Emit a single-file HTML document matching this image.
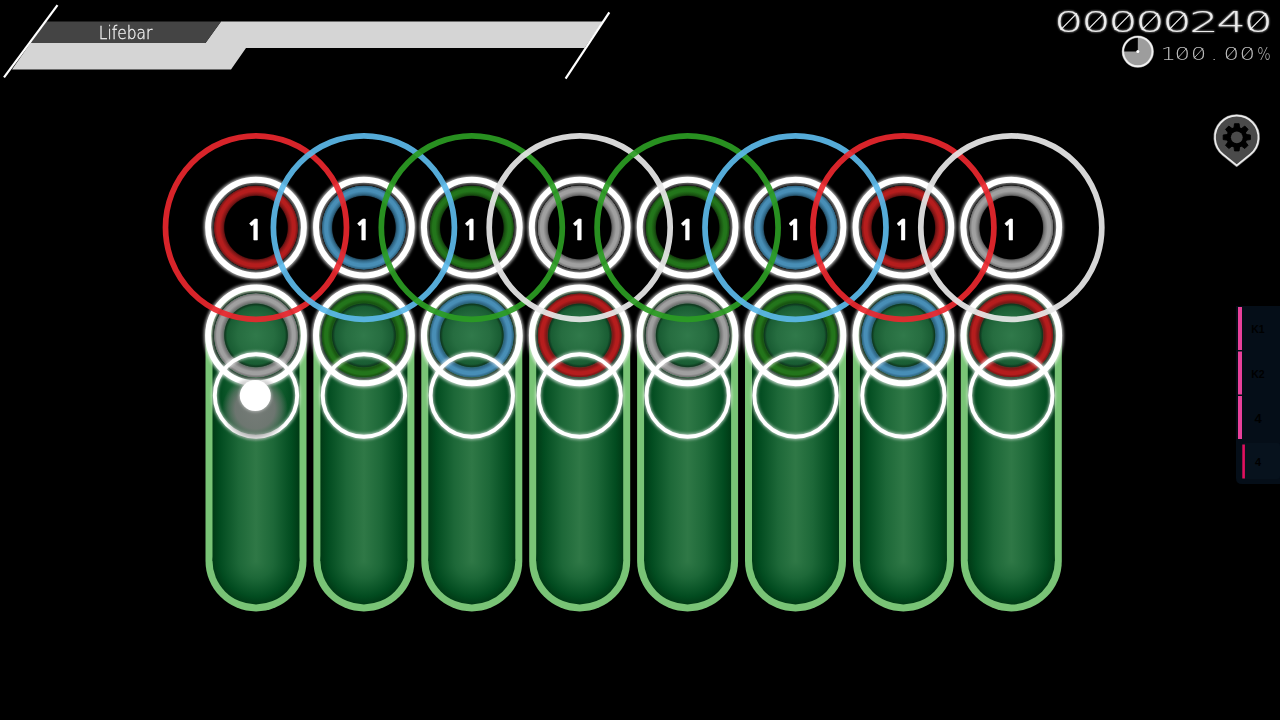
<!DOCTYPE html>
<html lang="en"><head><meta charset="utf-8"><title>Skin preview</title>
<style>
html,body{margin:0;padding:0;background:#000;}
body{width:1280px;height:720px;overflow:hidden;position:relative;font-family:"Liberation Sans",sans-serif;}
svg{position:absolute;left:0;top:0;display:block}
</style></head><body>
<svg width="1280" height="720" viewBox="0 0 1280 720">
<defs>
<linearGradient id="bodyL" x1="0" x2="1" y1="0" y2="0">
<stop offset="0" stop-color="#003a15"/><stop offset="0.09" stop-color="#024c20"/><stop offset="0.3" stop-color="#1d6838"/><stop offset="0.5" stop-color="#2f7846"/><stop offset="0.7" stop-color="#1d6838"/><stop offset="0.91" stop-color="#024c20"/><stop offset="1" stop-color="#003a15"/>
</linearGradient>
<radialGradient id="bodyR" cx="0.5" cy="0.5" r="0.5">
<stop offset="0" stop-color="#2f7846"/><stop offset="0.4" stop-color="#1d6838"/><stop offset="0.82" stop-color="#024c20"/><stop offset="1" stop-color="#003a15"/>
</radialGradient>
<filter id="glow" x="-20%" y="-20%" width="140%" height="140%"><feGaussianBlur stdDeviation="1.6"/></filter>
<filter id="tglow" x="-5%" y="-30%" width="110%" height="160%"><feGaussianBlur stdDeviation="0.8" result="b"/><feComponentTransfer in="b" result="b2"><feFuncA type="linear" slope="0.9"/></feComponentTransfer><feMerge><feMergeNode in="b2"/><feMergeNode in="SourceGraphic"/></feMerge></filter>
<filter id="noop" x="-1%" y="-20%" width="102%" height="140%"><feOffset dx="0" dy="0"/></filter>
<filter id="soft" x="-20%" y="-20%" width="140%" height="140%"><feGaussianBlur stdDeviation="0.6"/></filter>
<filter id="blur3" x="-30%" y="-30%" width="160%" height="160%"><feGaussianBlur stdDeviation="3"/></filter>
<filter id="blur8" x="-50%" y="-50%" width="200%" height="200%"><feGaussianBlur stdDeviation="7"/></filter>

<radialGradient id="hc_red" cx="0.5" cy="0.5" r="0.5">
<stop offset="0" stop-color="#000" stop-opacity="0"/>
<stop offset="0.68" stop-color="#000" stop-opacity="0"/>
<stop offset="0.735" stop-color="#000" stop-opacity="0.35"/>
<stop offset="0.76" stop-color="#821616" stop-opacity="0.75"/>
<stop offset="0.79" stop-color="#821616"/>
<stop offset="0.86" stop-color="#b51d1d"/>
<stop offset="0.925" stop-color="#b51d1d"/>
<stop offset="0.972" stop-color="#821616"/>
<stop offset="0.988" stop-color="#821616" stop-opacity="0.8"/>
<stop offset="1" stop-color="#821616" stop-opacity="0"/>
</radialGradient>
<radialGradient id="hc_blue" cx="0.5" cy="0.5" r="0.5">
<stop offset="0" stop-color="#000" stop-opacity="0"/>
<stop offset="0.68" stop-color="#000" stop-opacity="0"/>
<stop offset="0.735" stop-color="#000" stop-opacity="0.35"/>
<stop offset="0.76" stop-color="#316a8a" stop-opacity="0.75"/>
<stop offset="0.79" stop-color="#316a8a"/>
<stop offset="0.86" stop-color="#488eb6"/>
<stop offset="0.925" stop-color="#488eb6"/>
<stop offset="0.972" stop-color="#316a8a"/>
<stop offset="0.988" stop-color="#316a8a" stop-opacity="0.8"/>
<stop offset="1" stop-color="#316a8a" stop-opacity="0"/>
</radialGradient>
<radialGradient id="hc_green" cx="0.5" cy="0.5" r="0.5">
<stop offset="0" stop-color="#000" stop-opacity="0"/>
<stop offset="0.68" stop-color="#000" stop-opacity="0"/>
<stop offset="0.735" stop-color="#000" stop-opacity="0.35"/>
<stop offset="0.76" stop-color="#195511" stop-opacity="0.75"/>
<stop offset="0.79" stop-color="#195511"/>
<stop offset="0.86" stop-color="#23751b"/>
<stop offset="0.925" stop-color="#23751b"/>
<stop offset="0.972" stop-color="#195511"/>
<stop offset="0.988" stop-color="#195511" stop-opacity="0.8"/>
<stop offset="1" stop-color="#195511" stop-opacity="0"/>
</radialGradient>
<radialGradient id="hc_gray" cx="0.5" cy="0.5" r="0.5">
<stop offset="0" stop-color="#000" stop-opacity="0"/>
<stop offset="0.68" stop-color="#000" stop-opacity="0"/>
<stop offset="0.735" stop-color="#000" stop-opacity="0.35"/>
<stop offset="0.76" stop-color="#787878" stop-opacity="0.75"/>
<stop offset="0.79" stop-color="#787878"/>
<stop offset="0.86" stop-color="#a0a0a0"/>
<stop offset="0.925" stop-color="#a0a0a0"/>
<stop offset="0.972" stop-color="#787878"/>
<stop offset="0.988" stop-color="#787878" stop-opacity="0.8"/>
<stop offset="1" stop-color="#787878" stop-opacity="0"/>
</radialGradient>
<radialGradient id="haze" cx="0.5" cy="0.5" r="0.5">
<stop offset="0" stop-color="#7c7c7c" stop-opacity="0.92"/>
<stop offset="0.6" stop-color="#787878" stop-opacity="0.88"/>
<stop offset="0.8" stop-color="#787878" stop-opacity="0.5"/>
<stop offset="1" stop-color="#787878" stop-opacity="0"/>
</radialGradient>
<radialGradient id="headfill" cx="0.5" cy="0.5" r="0.5">
<stop offset="0" stop-color="#30794a"/><stop offset="0.55" stop-color="#266d40"/><stop offset="0.9" stop-color="#175a31"/><stop offset="1" stop-color="#175a31" stop-opacity="0.6"/>
</radialGradient>
</defs>
<g id="sliders">
<path d="M205.5 335.4 A50.5 50.5 0 0 1 306.5 335.4 V560.9 A50.5 50.5 0 0 1 205.5 560.9 Z" fill="#79c476"/>
<circle cx="256.0" cy="335.4" r="43.5" fill="url(#bodyR)"/>
<circle cx="256.0" cy="560.9" r="43.5" fill="url(#bodyR)"/>
<rect x="212.5" y="335.4" width="87.0" height="225.5" fill="url(#bodyL)"/>
<path d="M313.4 335.4 A50.5 50.5 0 0 1 414.4 335.4 V560.9 A50.5 50.5 0 0 1 313.4 560.9 Z" fill="#79c476"/>
<circle cx="363.9" cy="335.4" r="43.5" fill="url(#bodyR)"/>
<circle cx="363.9" cy="560.9" r="43.5" fill="url(#bodyR)"/>
<rect x="320.4" y="335.4" width="87.0" height="225.5" fill="url(#bodyL)"/>
<path d="M421.3 335.4 A50.5 50.5 0 0 1 522.3 335.4 V560.9 A50.5 50.5 0 0 1 421.3 560.9 Z" fill="#79c476"/>
<circle cx="471.8" cy="335.4" r="43.5" fill="url(#bodyR)"/>
<circle cx="471.8" cy="560.9" r="43.5" fill="url(#bodyR)"/>
<rect x="428.3" y="335.4" width="87.0" height="225.5" fill="url(#bodyL)"/>
<path d="M529.2 335.4 A50.5 50.5 0 0 1 630.2 335.4 V560.9 A50.5 50.5 0 0 1 529.2 560.9 Z" fill="#79c476"/>
<circle cx="579.7" cy="335.4" r="43.5" fill="url(#bodyR)"/>
<circle cx="579.7" cy="560.9" r="43.5" fill="url(#bodyR)"/>
<rect x="536.2" y="335.4" width="87.0" height="225.5" fill="url(#bodyL)"/>
<path d="M637.1 335.4 A50.5 50.5 0 0 1 738.1 335.4 V560.9 A50.5 50.5 0 0 1 637.1 560.9 Z" fill="#79c476"/>
<circle cx="687.6" cy="335.4" r="43.5" fill="url(#bodyR)"/>
<circle cx="687.6" cy="560.9" r="43.5" fill="url(#bodyR)"/>
<rect x="644.1" y="335.4" width="87.0" height="225.5" fill="url(#bodyL)"/>
<path d="M745.0 335.4 A50.5 50.5 0 0 1 846.0 335.4 V560.9 A50.5 50.5 0 0 1 745.0 560.9 Z" fill="#79c476"/>
<circle cx="795.5" cy="335.4" r="43.5" fill="url(#bodyR)"/>
<circle cx="795.5" cy="560.9" r="43.5" fill="url(#bodyR)"/>
<rect x="752.0" y="335.4" width="87.0" height="225.5" fill="url(#bodyL)"/>
<path d="M852.9 335.4 A50.5 50.5 0 0 1 953.9 335.4 V560.9 A50.5 50.5 0 0 1 852.9 560.9 Z" fill="#79c476"/>
<circle cx="903.4" cy="335.4" r="43.5" fill="url(#bodyR)"/>
<circle cx="903.4" cy="560.9" r="43.5" fill="url(#bodyR)"/>
<rect x="859.9" y="335.4" width="87.0" height="225.5" fill="url(#bodyL)"/>
<path d="M960.8 335.4 A50.5 50.5 0 0 1 1061.8 335.4 V560.9 A50.5 50.5 0 0 1 960.8 560.9 Z" fill="#79c476"/>
<circle cx="1011.3" cy="335.4" r="43.5" fill="url(#bodyR)"/>
<circle cx="1011.3" cy="560.9" r="43.5" fill="url(#bodyR)"/>
<rect x="967.8" y="335.4" width="87.0" height="225.5" fill="url(#bodyL)"/>
</g>
<g id="heads">
<circle cx="1011.3" cy="335.4" r="33.5" fill="url(#headfill)"/>
<circle cx="1011.3" cy="335.4" r="42.4" fill="url(#hc_red)"/>
<circle cx="1011.3" cy="335.4" r="43.5" fill="none" stroke="#2c2c2c" stroke-opacity="0.7" stroke-width="2.4"/>
<circle cx="1011.3" cy="335.4" r="48.3" fill="none" stroke="#fff" stroke-opacity="0.7" stroke-width="7.6" filter="url(#glow)"/>
<circle cx="1011.3" cy="335.4" r="47.85" fill="none" stroke="#fff" stroke-width="5.9"/>
<circle cx="903.4" cy="335.4" r="33.5" fill="url(#headfill)"/>
<circle cx="903.4" cy="335.4" r="42.4" fill="url(#hc_blue)"/>
<circle cx="903.4" cy="335.4" r="43.5" fill="none" stroke="#2c2c2c" stroke-opacity="0.7" stroke-width="2.4"/>
<circle cx="903.4" cy="335.4" r="48.3" fill="none" stroke="#fff" stroke-opacity="0.7" stroke-width="7.6" filter="url(#glow)"/>
<circle cx="903.4" cy="335.4" r="47.85" fill="none" stroke="#fff" stroke-width="5.9"/>
<circle cx="795.5" cy="335.4" r="33.5" fill="url(#headfill)"/>
<circle cx="795.5" cy="335.4" r="42.4" fill="url(#hc_green)"/>
<circle cx="795.5" cy="335.4" r="43.5" fill="none" stroke="#2c2c2c" stroke-opacity="0.7" stroke-width="2.4"/>
<circle cx="795.5" cy="335.4" r="48.3" fill="none" stroke="#fff" stroke-opacity="0.7" stroke-width="7.6" filter="url(#glow)"/>
<circle cx="795.5" cy="335.4" r="47.85" fill="none" stroke="#fff" stroke-width="5.9"/>
<circle cx="687.6" cy="335.4" r="33.5" fill="url(#headfill)"/>
<circle cx="687.6" cy="335.4" r="42.4" fill="url(#hc_gray)"/>
<circle cx="687.6" cy="335.4" r="43.5" fill="none" stroke="#2c2c2c" stroke-opacity="0.7" stroke-width="2.4"/>
<circle cx="687.6" cy="335.4" r="48.3" fill="none" stroke="#fff" stroke-opacity="0.7" stroke-width="7.6" filter="url(#glow)"/>
<circle cx="687.6" cy="335.4" r="47.85" fill="none" stroke="#fff" stroke-width="5.9"/>
<circle cx="579.7" cy="335.4" r="33.5" fill="url(#headfill)"/>
<circle cx="579.7" cy="335.4" r="42.4" fill="url(#hc_red)"/>
<circle cx="579.7" cy="335.4" r="43.5" fill="none" stroke="#2c2c2c" stroke-opacity="0.7" stroke-width="2.4"/>
<circle cx="579.7" cy="335.4" r="48.3" fill="none" stroke="#fff" stroke-opacity="0.7" stroke-width="7.6" filter="url(#glow)"/>
<circle cx="579.7" cy="335.4" r="47.85" fill="none" stroke="#fff" stroke-width="5.9"/>
<circle cx="471.8" cy="335.4" r="33.5" fill="url(#headfill)"/>
<circle cx="471.8" cy="335.4" r="42.4" fill="url(#hc_blue)"/>
<circle cx="471.8" cy="335.4" r="43.5" fill="none" stroke="#2c2c2c" stroke-opacity="0.7" stroke-width="2.4"/>
<circle cx="471.8" cy="335.4" r="48.3" fill="none" stroke="#fff" stroke-opacity="0.7" stroke-width="7.6" filter="url(#glow)"/>
<circle cx="471.8" cy="335.4" r="47.85" fill="none" stroke="#fff" stroke-width="5.9"/>
<circle cx="363.9" cy="335.4" r="33.5" fill="url(#headfill)"/>
<circle cx="363.9" cy="335.4" r="42.4" fill="url(#hc_green)"/>
<circle cx="363.9" cy="335.4" r="43.5" fill="none" stroke="#2c2c2c" stroke-opacity="0.7" stroke-width="2.4"/>
<circle cx="363.9" cy="335.4" r="48.3" fill="none" stroke="#fff" stroke-opacity="0.7" stroke-width="7.6" filter="url(#glow)"/>
<circle cx="363.9" cy="335.4" r="47.85" fill="none" stroke="#fff" stroke-width="5.9"/>
<circle cx="256.0" cy="335.4" r="33.5" fill="url(#headfill)"/>
<circle cx="256.0" cy="335.4" r="42.4" fill="url(#hc_gray)"/>
<circle cx="256.0" cy="335.4" r="43.5" fill="none" stroke="#2c2c2c" stroke-opacity="0.7" stroke-width="2.4"/>
<circle cx="256.0" cy="335.4" r="48.3" fill="none" stroke="#fff" stroke-opacity="0.7" stroke-width="7.6" filter="url(#glow)"/>
<circle cx="256.0" cy="335.4" r="47.85" fill="none" stroke="#fff" stroke-width="5.9"/>
</g>
<g id="follow">
<circle cx="256.0" cy="395.5" r="41.3" fill="none" stroke="#fff" stroke-opacity="0.6" stroke-width="6" filter="url(#glow)"/>
<circle cx="256.0" cy="395.5" r="41.2" fill="none" stroke="#fff" stroke-width="3.9"/>
<circle cx="363.9" cy="395.5" r="41.3" fill="none" stroke="#fff" stroke-opacity="0.6" stroke-width="6" filter="url(#glow)"/>
<circle cx="363.9" cy="395.5" r="41.2" fill="none" stroke="#fff" stroke-width="3.9"/>
<circle cx="471.8" cy="395.5" r="41.3" fill="none" stroke="#fff" stroke-opacity="0.6" stroke-width="6" filter="url(#glow)"/>
<circle cx="471.8" cy="395.5" r="41.2" fill="none" stroke="#fff" stroke-width="3.9"/>
<circle cx="579.7" cy="395.5" r="41.3" fill="none" stroke="#fff" stroke-opacity="0.6" stroke-width="6" filter="url(#glow)"/>
<circle cx="579.7" cy="395.5" r="41.2" fill="none" stroke="#fff" stroke-width="3.9"/>
<circle cx="687.6" cy="395.5" r="41.3" fill="none" stroke="#fff" stroke-opacity="0.6" stroke-width="6" filter="url(#glow)"/>
<circle cx="687.6" cy="395.5" r="41.2" fill="none" stroke="#fff" stroke-width="3.9"/>
<circle cx="795.5" cy="395.5" r="41.3" fill="none" stroke="#fff" stroke-opacity="0.6" stroke-width="6" filter="url(#glow)"/>
<circle cx="795.5" cy="395.5" r="41.2" fill="none" stroke="#fff" stroke-width="3.9"/>
<circle cx="903.4" cy="395.5" r="41.3" fill="none" stroke="#fff" stroke-opacity="0.6" stroke-width="6" filter="url(#glow)"/>
<circle cx="903.4" cy="395.5" r="41.2" fill="none" stroke="#fff" stroke-width="3.9"/>
<circle cx="1011.3" cy="395.5" r="41.3" fill="none" stroke="#fff" stroke-opacity="0.6" stroke-width="6" filter="url(#glow)"/>
<circle cx="1011.3" cy="395.5" r="41.2" fill="none" stroke="#fff" stroke-width="3.9"/>
</g>
<g id="circles">
<circle cx="1011.3" cy="227.6" r="42.4" fill="url(#hc_gray)"/>
<circle cx="1011.3" cy="227.6" r="43.5" fill="none" stroke="#2c2c2c" stroke-opacity="0.7" stroke-width="2.4"/>
<circle cx="1011.3" cy="227.6" r="48.3" fill="none" stroke="#fff" stroke-opacity="0.7" stroke-width="7.6" filter="url(#glow)"/>
<circle cx="1011.3" cy="227.6" r="47.85" fill="none" stroke="#fff" stroke-width="5.9"/>
<circle cx="903.4" cy="227.6" r="42.4" fill="url(#hc_red)"/>
<circle cx="903.4" cy="227.6" r="43.5" fill="none" stroke="#2c2c2c" stroke-opacity="0.7" stroke-width="2.4"/>
<circle cx="903.4" cy="227.6" r="48.3" fill="none" stroke="#fff" stroke-opacity="0.7" stroke-width="7.6" filter="url(#glow)"/>
<circle cx="903.4" cy="227.6" r="47.85" fill="none" stroke="#fff" stroke-width="5.9"/>
<circle cx="795.5" cy="227.6" r="42.4" fill="url(#hc_blue)"/>
<circle cx="795.5" cy="227.6" r="43.5" fill="none" stroke="#2c2c2c" stroke-opacity="0.7" stroke-width="2.4"/>
<circle cx="795.5" cy="227.6" r="48.3" fill="none" stroke="#fff" stroke-opacity="0.7" stroke-width="7.6" filter="url(#glow)"/>
<circle cx="795.5" cy="227.6" r="47.85" fill="none" stroke="#fff" stroke-width="5.9"/>
<circle cx="687.6" cy="227.6" r="42.4" fill="url(#hc_green)"/>
<circle cx="687.6" cy="227.6" r="43.5" fill="none" stroke="#2c2c2c" stroke-opacity="0.7" stroke-width="2.4"/>
<circle cx="687.6" cy="227.6" r="48.3" fill="none" stroke="#fff" stroke-opacity="0.7" stroke-width="7.6" filter="url(#glow)"/>
<circle cx="687.6" cy="227.6" r="47.85" fill="none" stroke="#fff" stroke-width="5.9"/>
<circle cx="579.7" cy="227.6" r="42.4" fill="url(#hc_gray)"/>
<circle cx="579.7" cy="227.6" r="43.5" fill="none" stroke="#2c2c2c" stroke-opacity="0.7" stroke-width="2.4"/>
<circle cx="579.7" cy="227.6" r="48.3" fill="none" stroke="#fff" stroke-opacity="0.7" stroke-width="7.6" filter="url(#glow)"/>
<circle cx="579.7" cy="227.6" r="47.85" fill="none" stroke="#fff" stroke-width="5.9"/>
<circle cx="471.8" cy="227.6" r="42.4" fill="url(#hc_green)"/>
<circle cx="471.8" cy="227.6" r="43.5" fill="none" stroke="#2c2c2c" stroke-opacity="0.7" stroke-width="2.4"/>
<circle cx="471.8" cy="227.6" r="48.3" fill="none" stroke="#fff" stroke-opacity="0.7" stroke-width="7.6" filter="url(#glow)"/>
<circle cx="471.8" cy="227.6" r="47.85" fill="none" stroke="#fff" stroke-width="5.9"/>
<circle cx="363.9" cy="227.6" r="42.4" fill="url(#hc_blue)"/>
<circle cx="363.9" cy="227.6" r="43.5" fill="none" stroke="#2c2c2c" stroke-opacity="0.7" stroke-width="2.4"/>
<circle cx="363.9" cy="227.6" r="48.3" fill="none" stroke="#fff" stroke-opacity="0.7" stroke-width="7.6" filter="url(#glow)"/>
<circle cx="363.9" cy="227.6" r="47.85" fill="none" stroke="#fff" stroke-width="5.9"/>
<circle cx="256.0" cy="227.6" r="42.4" fill="url(#hc_red)"/>
<circle cx="256.0" cy="227.6" r="43.5" fill="none" stroke="#2c2c2c" stroke-opacity="0.7" stroke-width="2.4"/>
<circle cx="256.0" cy="227.6" r="48.3" fill="none" stroke="#fff" stroke-opacity="0.7" stroke-width="7.6" filter="url(#glow)"/>
<circle cx="256.0" cy="227.6" r="47.85" fill="none" stroke="#fff" stroke-width="5.9"/>
</g>
<g id="numbers" filter="url(#noop)" text-anchor="middle" font-family="NanumGothic, 'Liberation Sans', sans-serif" font-weight="800" font-size="27.4" fill="#fff" stroke="#fff" stroke-width="0.3">
<text x="255.1" y="239.8">1</text>
<text x="363.0" y="239.8">1</text>
<text x="470.9" y="239.8">1</text>
<text x="578.8" y="239.8">1</text>
<text x="686.7" y="239.8">1</text>
<text x="794.6" y="239.8">1</text>
<text x="902.5" y="239.8">1</text>
<text x="1010.4" y="239.8">1</text>
</g>
<g id="approach">
<ellipse cx="256.0" cy="227.6" rx="90.5" ry="91.8" fill="none" stroke="#ea272e" stroke-opacity="0.92" stroke-width="5.7"/>
<ellipse cx="363.9" cy="227.6" rx="90.5" ry="91.8" fill="none" stroke="#5cbaea" stroke-opacity="0.92" stroke-width="5.7"/>
<ellipse cx="471.8" cy="227.6" rx="90.5" ry="91.8" fill="none" stroke="#2b9c23" stroke-opacity="0.92" stroke-width="5.7"/>
<ellipse cx="579.7" cy="227.6" rx="90.5" ry="91.8" fill="none" stroke="#e8e8e8" stroke-opacity="0.92" stroke-width="5.7"/>
<ellipse cx="687.6" cy="227.6" rx="90.5" ry="91.8" fill="none" stroke="#2b9c23" stroke-opacity="0.92" stroke-width="5.7"/>
<ellipse cx="795.5" cy="227.6" rx="90.5" ry="91.8" fill="none" stroke="#5cbaea" stroke-opacity="0.92" stroke-width="5.7"/>
<ellipse cx="903.4" cy="227.6" rx="90.5" ry="91.8" fill="none" stroke="#ea272e" stroke-opacity="0.92" stroke-width="5.7"/>
<ellipse cx="1011.3" cy="227.6" rx="90.5" ry="91.8" fill="none" stroke="#e8e8e8" stroke-opacity="0.92" stroke-width="5.7"/>
</g>
<g id="cursor">
<circle cx="255" cy="409" r="33" fill="url(#haze)"/>
<circle cx="255.3" cy="395.6" r="16.2" fill="#fff" fill-opacity="0.5" filter="url(#glow)"/>
<circle cx="255.3" cy="395.6" r="15.5" fill="#fff"/>
</g>
<g id="lifebar">
<polygon points="221,21.4 602.8,21.4 584.5,48 246,48 231,69.6 12,69.6 30.5,43 205.5,43" fill="#d5d5d5"/>
<polygon points="46.3,21.4 221,21.4 205.5,43 30.5,43" fill="#444"/>
<line x1="57.5" y1="5.2" x2="4" y2="77.3" stroke="#fff" stroke-width="2.2"/>
<line x1="609.3" y1="12.3" x2="565.6" y2="78.6" stroke="#fff" stroke-width="2.2"/>
<text x="98.8" y="38.7" font-family="'DejaVu Sans Light','DejaVu Sans','Liberation Sans',sans-serif" font-weight="200" font-size="17.8" fill="#f0f0f0" stroke="#f0f0f0" stroke-width="0.3" textLength="53.5" lengthAdjust="spacingAndGlyphs" filter="url(#noop)">Lifebar</text>
</g>
<g id="pin">
<path d="M1236.7 165.4 L1223.1 154.3 A21.7 21.7 0 1 1 1250.3 154.3 Z" fill="#4a4a4a" stroke="#fff" stroke-opacity="0.55" stroke-width="3" stroke-linejoin="round" filter="url(#soft)"/>
<path d="M1236.7 165.4 L1223.1 154.3 A21.7 21.7 0 1 1 1250.3 154.3 Z" fill="#4a4a4a" stroke="#ededed" stroke-width="1.7" stroke-linejoin="round"/>
<g transform="translate(1236.8 137.3)" fill="#000">
<circle r="10.4"/>
<g id="teeth">
<path d="M-2.9 -9 L-2.3 -13.6 H2.3 L2.9 -9 Z" stroke="#000" stroke-width="0.9" stroke-linejoin="round" transform="rotate(0)"/>
<path d="M-2.9 -9 L-2.3 -13.6 H2.3 L2.9 -9 Z" stroke="#000" stroke-width="0.9" stroke-linejoin="round" transform="rotate(45)"/>
<path d="M-2.9 -9 L-2.3 -13.6 H2.3 L2.9 -9 Z" stroke="#000" stroke-width="0.9" stroke-linejoin="round" transform="rotate(90)"/>
<path d="M-2.9 -9 L-2.3 -13.6 H2.3 L2.9 -9 Z" stroke="#000" stroke-width="0.9" stroke-linejoin="round" transform="rotate(135)"/>
<path d="M-2.9 -9 L-2.3 -13.6 H2.3 L2.9 -9 Z" stroke="#000" stroke-width="0.9" stroke-linejoin="round" transform="rotate(180)"/>
<path d="M-2.9 -9 L-2.3 -13.6 H2.3 L2.9 -9 Z" stroke="#000" stroke-width="0.9" stroke-linejoin="round" transform="rotate(225)"/>
<path d="M-2.9 -9 L-2.3 -13.6 H2.3 L2.9 -9 Z" stroke="#000" stroke-width="0.9" stroke-linejoin="round" transform="rotate(270)"/>
<path d="M-2.9 -9 L-2.3 -13.6 H2.3 L2.9 -9 Z" stroke="#000" stroke-width="0.9" stroke-linejoin="round" transform="rotate(315)"/>
</g>
<circle r="5.9" fill="#4b4b4b"/>
</g></g>
<g id="keys" font-family="Liberation Sans, sans-serif" font-weight="700" font-size="10.5" fill="#000" text-anchor="middle">
<path d="M1236 306 H1280 V484 H1242 Q1236 484 1236 478 Z" fill="#050e18"/>
<rect x="1241.5" y="443" width="38.5" height="36" rx="3" fill="#07121d"/>
<rect x="1238" y="307" width="4" height="43" fill="#e8409a"/>
<rect x="1238" y="351.5" width="4" height="43" fill="#e8409a"/>
<rect x="1238" y="396" width="4" height="43" fill="#e8409a"/>
<rect x="1242.3" y="444.5" width="2.6" height="34" fill="#e0105f"/>
<text x="1258" y="332.5">K1</text>
<text x="1258" y="377.5">K2</text>
<text x="1258" y="422.5" font-size="13">4</text>
<text x="1258" y="465.5" font-size="11">4</text>
</g>
<g id="score" font-family="'DejaVu Sans Light','DejaVu Sans','Liberation Sans',sans-serif" font-weight="200">
<text transform="scale(1.6 1)" x="658.81 675.72 692.62 709.53 726.44 743.34 760.25 777.16" y="32.4" font-size="29" fill="#ececec" filter="url(#tglow)">00000240</text>
<line x1="1060.6" y1="29.8" x2="1076.8" y2="13.4" stroke="#f4f4f4" stroke-width="1.2"/>
<line x1="1087.6" y1="29.8" x2="1103.8" y2="13.4" stroke="#f4f4f4" stroke-width="1.2"/>
<line x1="1114.7" y1="29.8" x2="1130.9" y2="13.4" stroke="#f4f4f4" stroke-width="1.2"/>
<line x1="1141.8" y1="29.8" x2="1158.0" y2="13.4" stroke="#f4f4f4" stroke-width="1.2"/>
<line x1="1168.8" y1="29.8" x2="1185.0" y2="13.4" stroke="#f4f4f4" stroke-width="1.2"/>
<line x1="1249.9" y1="29.8" x2="1266.1" y2="13.4" stroke="#f4f4f4" stroke-width="1.2"/>
<text transform="scale(1.4 1)" x="829.00 838.86 850.57 864.50 873.86 885.29" y="59.6" font-size="17.6" fill="#bcbcbc" filter="url(#noop)">100.00<tspan x="898.00" textLength="9.6" lengthAdjust="spacingAndGlyphs">%</tspan></text>
<line x1="1177.6" y1="58.2" x2="1186.6" y2="48.4" stroke="#c4c4c4" stroke-width="0.9"/>
<line x1="1194.0" y1="58.2" x2="1203.0" y2="48.4" stroke="#c4c4c4" stroke-width="0.9"/>
<line x1="1226.6" y1="58.2" x2="1235.6" y2="48.4" stroke="#c4c4c4" stroke-width="0.9"/>
<line x1="1242.6" y1="58.2" x2="1251.6" y2="48.4" stroke="#c4c4c4" stroke-width="0.9"/>
<circle cx="1137.8" cy="51.6" r="14.8" fill="#9d9d9d"/>
<path d="M1137.8 51.6 V36.8 A14.8 14.8 0 0 0 1123 51.6 Z" fill="#000"/>
<circle cx="1137.8" cy="51.6" r="14.8" fill="none" stroke="#fff" stroke-opacity="0.5" stroke-width="2.6" filter="url(#soft)"/>
<circle cx="1137.8" cy="51.6" r="14.8" fill="none" stroke="#f2f2f2" stroke-width="1.6"/>
<circle cx="1137.8" cy="51.6" r="1.5" fill="#fff"/>
</g>
</svg></body></html>
